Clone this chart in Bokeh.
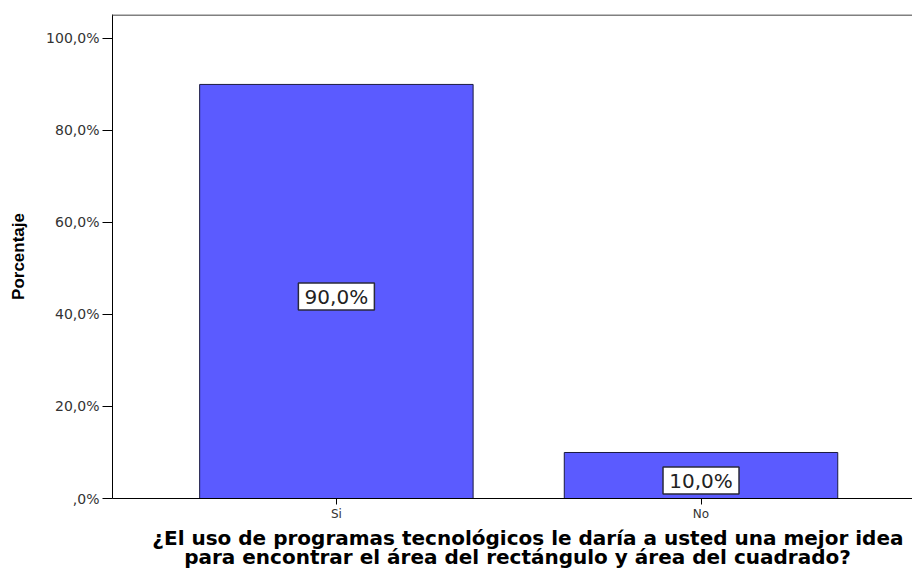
from bokeh.plotting import figure
from bokeh.models import ColumnDataSource, FixedTicker, Range1d, Span, Title
from bokeh.core.properties import value
from bokeh.embed import file_html
from bokeh.resources import INLINE

categories = ["Si", "No"]
percentages = [90.0, 10.0]
bar_labels = ["90,0%", "10,0%"]
y_ticks = [0, 20, 40, 60, 80, 100]
y_tick_labels = [",0%", "20,0%", "40,0%", "60,0%", "80,0%", "100,0%"]
title_lines = ["¿El uso de programas tecnológicos le daría a usted una mejor idea",
               "para encontrar el  área del  rectángulo y  área del cuadrado?"]

xpos = list(range(len(categories)))
src = ColumnDataSource(dict(x=xpos, top=percentages, cat=categories, lab=bar_labels,
                            ymid=[v / 2 - 1.1 for v in percentages]))

p = figure(width=912, height=570, output_backend="svg", toolbar_location=None,
           x_range=Range1d(-0.614, 1.58), y_range=Range1d(0, 105.2),
           min_border_left=112, min_border_right=0, min_border_top=14, min_border_bottom=72)
p.background_fill_color = "white"
p.border_fill_color = "white"
p.outline_line_color = None
p.outline_line_alpha = 0
p.grid.visible = False

p.vbar(x="x", top="top", width=0.75, source=src, fill_color="#5b5bff",
       line_color="#1a1a40", line_width=1)

top = Span(location=105.2, dimension="width", line_color="#808080", line_width=3)
p.add_layout(top)

# value label boxes
p.rect(x="x", y="ymid", width=76, height=27, width_units="screen", height_units="screen",
       source=src, fill_color="white", line_color="#2a2a3a", line_width=1.5)
p.text(x="x", y="ymid", text="lab", source=src, text_align="center",
       text_baseline="middle", text_font=value("DejaVu Sans"),
       text_font_size=value("20px"), text_color="#222222")

ya = p.yaxis[0]
ya.ticker = FixedTicker(ticks=y_ticks)
ya.major_label_overrides = {t: l for t, l in zip(y_ticks, y_tick_labels)}
ya.major_label_text_font = "DejaVu Sans"
ya.major_label_text_font_size = "14px"
ya.major_label_text_color = "#333333"
ya.major_tick_out = 10
ya.major_tick_in = 0
ya.minor_tick_out = 0
ya.minor_tick_in = 0
ya.axis_line_color = "black"
ya.major_tick_line_color = "black"
ya.axis_label = "Porcentaje"
ya.axis_label_text_font = "Liberation Sans"
ya.axis_label_text_font_style = "bold"
ya.axis_label_text_font_size = "17px"
ya.axis_label_text_color = "black"
ya.axis_label_standoff = 15
ya.major_label_standoff = 3

xa = p.xaxis[0]
xa.ticker = FixedTicker(ticks=xpos)
xa.major_label_overrides = {i: c for i, c in zip(xpos, categories)}
xa.major_label_text_font = "DejaVu Sans"
xa.major_label_text_font_size = "12px"
xa.major_label_text_color = "#333333"
xa.major_tick_out = 6
xa.major_tick_in = 0
xa.minor_tick_out = 0
xa.minor_tick_in = 0
xa.axis_line_color = "black"
xa.major_tick_line_color = "black"
xa.major_label_standoff = 2

t = Title(text="\n".join(title_lines), align="right", text_align="center",
          text_font="DejaVu Sans", text_font_style="bold", text_font_size="20px",
          text_color="black", text_line_height=0.82, standoff=0, offset=9)
p.add_layout(t, "below")

open("out.html", "w").write(file_html(p, INLINE))
